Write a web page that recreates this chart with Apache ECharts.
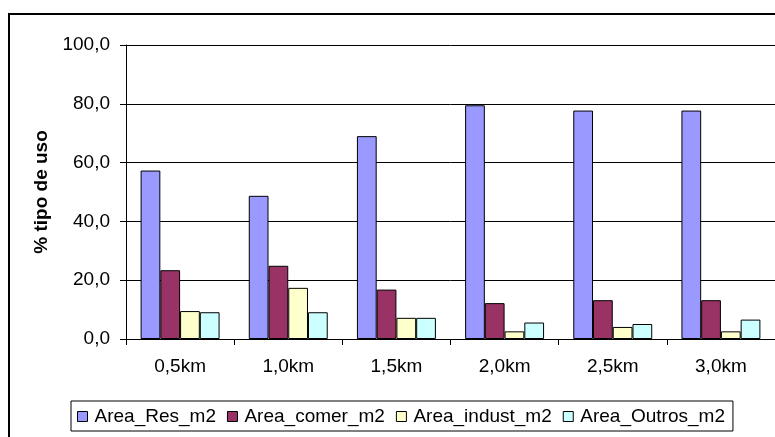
<!DOCTYPE html>
<html>
<head>
<meta charset="utf-8">
<script src="https://cdn.jsdelivr.net/npm/echarts@6/dist/echarts.min.js"></script>
<style>
html,body{margin:0;padding:0;background:#fff;}
#chart{width:775px;height:437px;}
</style>
</head>
<body>
<div id="chart"></div>
<script>
const categories = ['0,5km', '1,0km', '1,5km', '2,0km', '2,5km', '3,0km'];
const seriesNames = ['Area_Res_m2', 'Area_comer_m2', 'Area_indust_m2', 'Area_Outros_m2'];
const areaRes = [57.3, 48.7, 69.0, 79.5, 77.7, 77.7];
const areaComer = [23.4, 24.9, 16.8, 12.2, 13.2, 13.2];
const areaIndust = [9.5, 17.4, 7.2, 2.6, 4.1, 2.6];
const areaOutros = [9.1, 9.1, 7.2, 5.6, 5.1, 6.6];
const yTicks = [0, 20, 40, 60, 80, 100];
const yTitle = '% tipo de uso';

const colors = ['#9999FF', '#993366', '#FFFFCC', '#CCFFFF'];
const font = 'Liberation Sans, Arial, sans-serif';
const values = [areaRes, areaComer, areaIndust, areaOutros];

const chart = echarts.init(document.getElementById('chart'), null, {renderer: 'canvas'});
chart.setOption({
  animation: false,
  backgroundColor: '#fff',
  textStyle: {fontFamily: font, color: '#000'},
  grid: {left: 126, top: 45, right: -2, bottom: 98, containLabel: false},
  legend: {
    data: seriesNames,
    left: 71, top: 401,
    padding: [6, 8, 5, 6],
    borderColor: '#000', borderWidth: 1,
    itemWidth: 10, itemHeight: 10, itemGap: 11,
    icon: 'rect',
    itemStyle: {borderColor: '#000', borderWidth: 1},
    textStyle: {fontFamily: font, fontSize: 19, color: '#000', padding: [0, 0, 0, 2]}
  },
  xAxis: {
    type: 'category',
    data: categories,
    axisLine: {lineStyle: {color: '#000', width: 1}},
    axisTick: {show: true, length: 6, alignWithLabel: false, lineStyle: {color: '#000'}},
    axisLabel: {fontFamily: font, fontSize: 19, color: '#000', margin: 18},
    splitLine: {show: false}
  },
  yAxis: {
    type: 'value',
    min: yTicks[0], max: yTicks[yTicks.length - 1], interval: 20,
    name: yTitle,
    nameLocation: 'middle',
    nameRotate: 90,
    nameGap: 73,
    nameTextStyle: {fontFamily: font, fontSize: 19, fontWeight: 'bold', color: '#000'},
    axisLine: {show: true, lineStyle: {color: '#000', width: 1}},
    axisTick: {show: true, length: 6, lineStyle: {color: '#000'}},
    axisLabel: {fontFamily: font, fontSize: 19, color: '#000', margin: 16,
      formatter: v => v.toFixed(1).replace('.', ',')},
    splitLine: {show: true, lineStyle: {color: '#000', width: 1}}
  },
  series: seriesNames.map((n, i) => ({
    name: n,
    type: 'bar',
    data: values[i],
    barGap: '0%',
    barCategoryGap: '27%',
    itemStyle: {color: colors[i], borderColor: '#000', borderWidth: 1}
  })),
  graphic: [{
    type: 'rect',
    shape: {x: 9, y: 14, width: 820, height: 520},
    style: {fill: 'none', stroke: '#000', lineWidth: 2},
    silent: true, z: 100
  }]
});
</script>
</body>
</html>
